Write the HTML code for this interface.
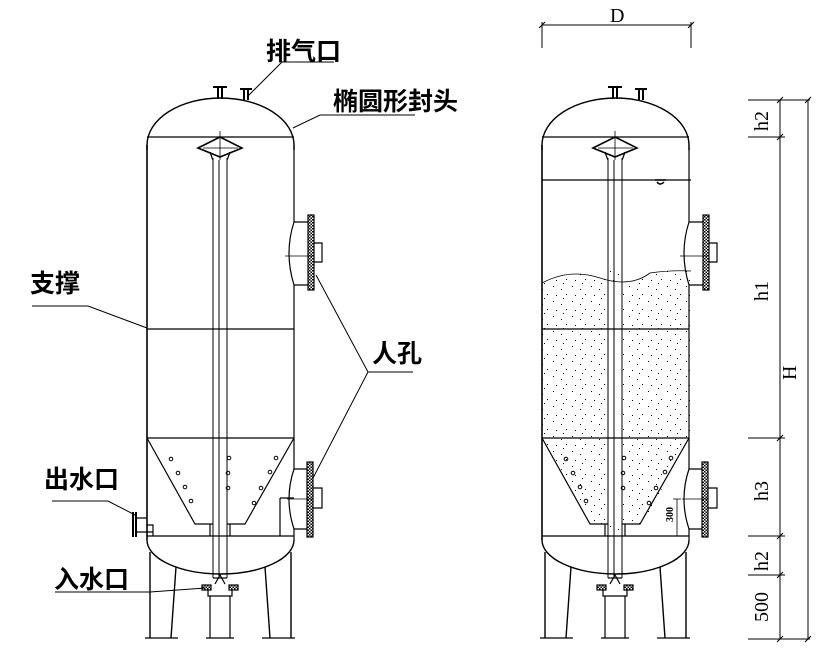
<!DOCTYPE html>
<html><head><meta charset="utf-8"><style>
html,body{margin:0;padding:0;background:#fff}
svg{display:block}
text{font-family:"Liberation Sans","Noto Sans CJK SC","WenQuanYi Zen Hei",sans-serif;fill:#000}
.cn{font-size:25px;font-weight:bold}
.dm{font-family:"Liberation Serif",serif;font-size:20px}
</style></head><body>
<svg width="833" height="657" viewBox="0 0 833 657" xmlns="http://www.w3.org/2000/svg">
<defs>
<pattern id="sand" width="19" height="15" patternUnits="userSpaceOnUse">
<rect x="2" y="1" width="1" height="1" fill="#000"/>
<rect x="10" y="4" width="1" height="1" fill="#000"/>
<rect x="15" y="9" width="1" height="1" fill="#000"/>
<rect x="5" y="10" width="1" height="1" fill="#000"/>
<rect x="12" y="13" width="1" height="1" fill="#000"/>
</pattern>
<pattern id="hatch" width="3" height="3" patternUnits="userSpaceOnUse">
<rect width="3" height="3" fill="#fff"/><rect width="1.5" height="1.5" fill="#000"/><rect x="1.5" y="1.5" width="1.5" height="1.5" fill="#000"/>
</pattern>
<g id="vessel" fill="none" stroke="#000" stroke-width="1.2">
<path d="M218,99 V88 M222,99 V88 M213,87 H227" stroke-width="2"/>
<path d="M244,100 V90 M248,100 V90 M240,89 H252" stroke-width="2"/>
<path d="M147,150 V145 A73.5,47 0 0 1 294,145 V150" stroke-width="1.4"/>
<line x1="147" y1="137" x2="294" y2="137"/>
<line x1="147" y1="145" x2="147" y2="540" stroke-width="1.6"/>
<line x1="294" y1="145" x2="294" y2="222"/>
<line x1="294" y1="285" x2="294" y2="469"/>
<line x1="294" y1="529" x2="294" y2="540"/>
<path d="M147,540 A73.5,34 0 0 0 294,540" stroke-width="1.4"/>
<line x1="147" y1="536" x2="294" y2="536"/>
<line x1="147" y1="329" x2="294" y2="329"/>
<line x1="147" y1="438" x2="294" y2="438"/>
<path d="M147,438 L195,524 H213 M227,524 H245 L294,438"/>
<path d="M210,524 V536 M230,524 V536"/>
<path d="M213,158 V578 M227,158 V578 M219,160 V578" stroke-width="1"/>
<path d="M198,148 L220,137 L242,148 L220,157 Z" stroke-width="1.6"/>
<path d="M220,131 V160 M203,148 H238" stroke-width="0.8"/>
<path d="M210,152 Q212,158 213,160 M230,152 Q228,158 227,160"/>
<path d="M294,222 Q284,253 294,285"/>
<path d="M294,222 H308 M294,285 H308"/>
<rect x="308" y="215" width="6" height="75" fill="url(#hatch)"/>
<path d="M314,243 H322 V262 H314"/>
<line x1="285" y1="256" x2="314" y2="256" stroke-width="0.8"/>
<path d="M294,469 Q284,499 294,529"/>
<path d="M294,469 H307 M294,529 H307"/>
<rect x="307" y="462" width="6" height="75" fill="url(#hatch)"/>
<path d="M313,488 H322 V508 H313"/>
<line x1="287" y1="499" x2="313" y2="499" stroke-width="0.8"/>
<path d="M213,578 H227" />
<path d="M215,584 L220,575 L225,584"/>
<rect x="202" y="585" width="9" height="5" fill="url(#hatch)"/>
<rect x="229" y="585" width="9" height="5" fill="url(#hatch)"/>
<path d="M208,590 V596 H232 V590"/>
<path d="M150,552 V638 M176,567 L171,638" stroke-width="1.4"/>
<path d="M210,596 V638 M230,596 V638" />
<path d="M265,567 L270,638 M291,552 V638" stroke-width="1.4"/>
<path d="M145,638 H178 M206,638 H234 M262,638 H295"/>
<g stroke-width="1">
<circle cx="171" cy="459" r="1.8"/><circle cx="178" cy="473" r="1.8"/><circle cx="185" cy="487" r="1.8"/><circle cx="191" cy="501" r="1.8"/>
<circle cx="229" cy="458" r="1.8"/><circle cx="228" cy="473" r="1.8"/><circle cx="228" cy="488" r="1.8"/>
<circle cx="276" cy="458" r="1.8"/><circle cx="270" cy="472" r="1.8"/><circle cx="261" cy="488" r="1.8"/><circle cx="254" cy="503" r="1.8"/>
</g>
</g>
</defs>

<use href="#vessel"/>
<g fill="none" stroke="#000" stroke-width="1.2">
<path d="M133,512 V537 M136,512 V537" stroke-width="2"/>
<path d="M136,518 H147 M136,532 H153 M147,525 H153 V536"/>
<path d="M280,498 H294 M280,498 V536"/>
</g>

<path fill-rule="evenodd" d="M542,283 Q570,268 600,278 T650,273 Q670,270 691,271 V438 L642,524 H594 L542,438 Z M608,270 H622 V530 H608 Z" fill="url(#sand)"/>
<use href="#vessel" x="395"/>
<g fill="none" stroke="#000" stroke-width="1.2">
<path d="M542,283 Q570,268 600,278 T650,273 Q670,270 691,271" stroke-width="0.8"/>
<line x1="542" y1="180" x2="691" y2="180"/>
<path d="M655,180 H666 M657,182 Q660,186 664,182" stroke-width="1.5"/>
<path d="M677,499 V536 M673,499 H681 M673,536 H681 M660,536 H682" stroke-width="0.8"/>
</g>
<text transform="translate(673,522) rotate(-90)" style="font-family:'Liberation Serif',serif;font-size:10px;font-weight:bold">300</text>

<g stroke="#000" stroke-width="1" fill="none">
<path d="M542,25 H691 M542,22 V48 M691,22 V48 M539,28 L545,22 M688,28 L694,22"/>
<path d="M780,100 V639 M808,100 V639"/>
<path d="M748,100 H810 M748,137 H785 M748,438 H785 M748,536 H785 M748,575 H785 M748,639 H810"/>
<path d="M777,103 L783,97 M777,140 L783,134 M777,441 L783,435 M777,539 L783,533 M777,578 L783,572 M777,642 L783,636 M805,103 L811,97 M805,642 L811,636"/>
</g>
<text class="dm" x="610" y="22">D</text>
<text class="dm" transform="translate(768,131) rotate(-90)">h2</text>
<text class="dm" transform="translate(768,301) rotate(-90)">h1</text>
<text class="dm" transform="translate(796,380) rotate(-90)">H</text>
<text class="dm" transform="translate(768,501) rotate(-90)">h3</text>
<text class="dm" transform="translate(768,571) rotate(-90)">h2</text>
<text class="dm" transform="translate(768,622) rotate(-90)">500</text>

<g stroke="#000" stroke-width="1" fill="none">
<path d="M247,97 L282,62 H334"/>
<path d="M293,128 L320,115 H415"/>
<path d="M32,306 H88 L147,328"/>
<path d="M316,275 L368,372 H413 M368,372 L313,478"/>
<path d="M52,501 H108 L135,515"/>
<path d="M55,592 H150 L205,588"/>
</g>
<text class="cn" x="266" y="60">排气口</text>
<text class="cn" x="333" y="110">椭圆形封头</text>
<text class="cn" x="30" y="292">支撑</text>
<text class="cn" x="372" y="362">人孔</text>
<text class="cn" x="44" y="488">出水口</text>
<text class="cn" x="54" y="588">入水口</text>
</svg>
</body></html>
